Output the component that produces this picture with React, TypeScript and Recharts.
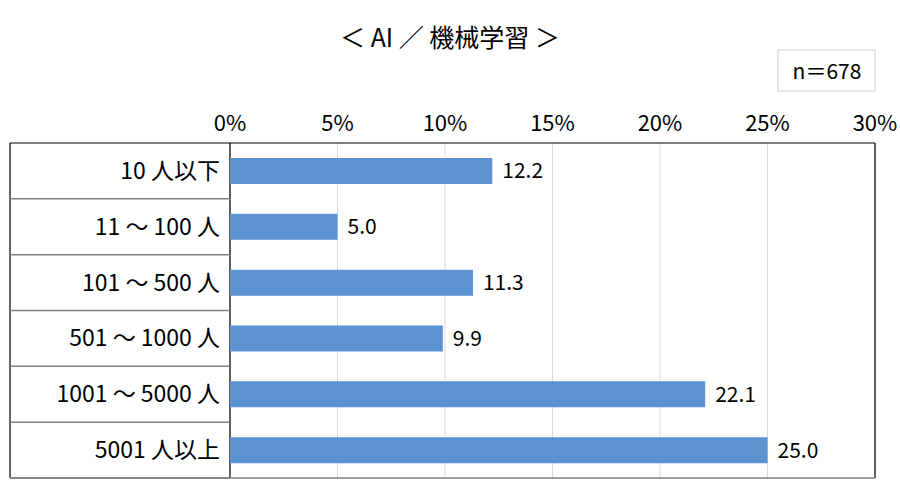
import React from 'react';
import { BarChart, Bar, XAxis, YAxis, CartesianGrid, LabelList, Customized } from 'recharts';

const categories = ['10 人以下', '11 ～ 100 人', '101 ～ 500 人', '501 ～ 1000 人', '1001 ～ 5000 人', '5001 人以上'];
const values = [12.2, 5.0, 11.3, 9.9, 22.1, 25.0];
const xTicks = [0, 5, 10, 15, 20, 25, 30];
const title = '＜ AI ／ 機械学習 ＞';
const nLabel = 'n＝678';

const W = 900;
const H = 503;
const PLOT_TOP = 143;
const X_H = 40;
const M = { top: PLOT_TOP - X_H, right: 25, bottom: 25, left: 10 };
const Y_W = 220;
const FONT = '"Noto Sans CJK JP", "Noto Sans", sans-serif';

const data = categories.map((c, i) => ({ name: c, value: values[i] }));
const plotH = H - PLOT_TOP - M.bottom;
const band = plotH / categories.length;

const CatTick = (props: any) => {
  const { y, payload } = props;
  return (
    <g>
      <text x={M.left + Y_W - 10} y={y} dy={8} textAnchor="end" fontSize={23} fill="#000" fontFamily={FONT}>
        {payload.value}
      </text>
      <line x1={M.left} x2={M.left + Y_W} y1={y + band / 2} y2={y + band / 2} stroke="#7f7f7f" strokeWidth={1.5} />
    </g>
  );
};

const Frame = () => {
  const x0 = M.left;
  const xp = M.left + Y_W;
  const x1 = W - M.right;
  const y0 = PLOT_TOP;
  const y1 = H - M.bottom;
  return (
    <g>
      <line x1={x0} x2={x1} y1={y0} y2={y0} stroke="#000" strokeWidth={1.2} />
      <line x1={x0} x2={x0} y1={y0} y2={y1} stroke="#000" strokeWidth={1.2} />
      <line x1={xp} x2={xp} y1={y0} y2={y1} stroke="#000" strokeWidth={1.2} />
      <line x1={x1} x2={x1} y1={y0} y2={y1} stroke="#000" strokeWidth={1.2} />
      <line x1={x0} x2={x1} y1={y1} y2={y1} stroke="#7f7f7f" strokeWidth={1.5} />
      <text x={W / 2} y={47} textAnchor="middle" fontSize={25} fill="#000" fontFamily={FONT}>
        {title}
      </text>
      <rect x={778} y={50} width={97} height={41} fill="#fff" stroke="#d0d0d0" />
      <text x={827} y={79} textAnchor="middle" fontSize={21} fill="#000" fontFamily={FONT}>
        {nLabel}
      </text>
    </g>
  );
};

export default function App() {
  return (
    <div style={{ position: 'absolute', left: 0, top: 0, width: W, height: H, background: '#fff' }}>
      <BarChart width={W} height={H} data={data} layout="vertical" margin={M}>
        <CartesianGrid horizontal={false} vertical={true} stroke="#d9d9d9" />
        <XAxis
          type="number"
          orientation="top"
          domain={[0, 30]}
          ticks={xTicks}
          tickFormatter={(v: number) => `${v}%`}
          axisLine={false}
          tickLine={false}
          interval={0}
          tick={{ fontSize: 22, fill: '#000', fontFamily: FONT }}
          tickMargin={6}
          height={X_H}
        />
        <YAxis
          type="category"
          dataKey="name"
          width={Y_W}
          axisLine={false}
          tickLine={false}
          tick={<CatTick />}
          interval={0}
        />
        <Bar dataKey="value" fill="#5a92d2" barSize={26} isAnimationActive={false}>
          <LabelList
            dataKey="value"
            position="right"
            offset={10}
            formatter={(v: any) => Number(v).toFixed(1)}
            style={{ fontSize: 21, fill: '#000', fontFamily: FONT }}
          />
        </Bar>
        <Customized component={Frame} />
      </BarChart>
    </div>
  );
}
